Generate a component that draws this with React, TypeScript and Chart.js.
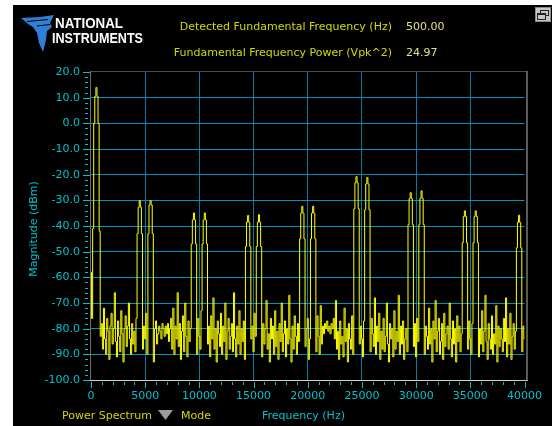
import React, { useEffect, useRef } from "react";
import { Chart, registerables } from "chart.js";

Chart.register(...registerables);

// Spectrum bins are spaced 100 Hz apart, from 0 Hz to 40 kHz.
const BIN_HZ = 100;

// Power spectrum magnitude in dBm, one value per bin.
const magnitudeDbm: number[] = [
  -58, -76, -41, 0, 10.5, 13.97, 10.5, 0, -42, -83,
  -78, -88, -72, -84, -90, -76, -81, -92, -79, -74,
  -86, -80, -66, -85, -91, -77, -83, -89, -73, -82,
  -93, -80, -75, -87, -79, -70, -84, -90, -78, -86,
  -81, -89, -76, -43, -32.7, -30.1, -32.7, -43, -88, -79,
  -84, -74, -90, -43, -31.8, -30.1, -31.8, -43, -93, -80,
  -77, -86, -82, -79, -81, -84, -78, -80, -83, -79,
  -82, -78, -85, -80, -76, -88, -72, -90, -79, -84,
  -66, -87, -78, -92, -81, -75, -89, -70, -83, -91,
  -77, -85, -80, -47, -37.6, -34.9, -37.6, -47, -90, -76,
  -83, -88, -73, -47, -37.6, -34.9, -37.6, -47, -86, -79,
  -91, -75, -84, -68, -88, -80, -93, -77, -82, -87,
  -74, -90, -79, -85, -70, -92, -81, -76, -88, -83,
  -78, -89, -66, -84, -91, -79, -86, -73, -90, -80,
  -85, -77, -92, -48, -38.5, -35.9, -38.5, -48, -84, -79,
  -89, -74, -83, -48, -38.5, -35.6, -38.5, -48, -91, -78,
  -86, -80, -69, -88, -82, -93, -76, -84, -79, -90,
  -73, -87, -81, -92, -78, -85, -70, -89, -82, -77,
  -91, -80, -86, -67, -84, -93, -79, -88, -75, -83,
  -90, -78, -85, -45, -35.0, -32.3, -35.0, -45, -87, -80,
  -76, -92, -84, -45, -35.0, -32.3, -35.0, -45, -89, -75,
  -83, -90, -71, -86, -79, -82, -78, -80, -77, -81,
  -79, -82, -78, -80, -76, -84, -69, -88, -81, -92,
  -77, -86, -83, -91, -72, -85, -80, -93, -78, -84,
  -88, -75, -90, -33.3, -23.2, -20.7, -23.2, -33.3, -86, -79,
  -84, -91, -77, -33.7, -23.6, -21.1, -23.6, -33.7, -89, -76,
  -82, -87, -68, -90, -79, -85, -74, -92, -81, -88,
  -76, -89, -83, -70, -86, -93, -78, -84, -80, -91,
  -73, -88, -81, -85, -67, -90, -79, -86, -77, -92,
  -84, -80, -89, -39.5, -29.3, -27.0, -29.3, -39.5, -87, -78,
  -91, -76, -85, -39.5, -29.2, -26.3, -29.2, -39.5, -90, -79,
  -83, -88, -72, -86, -80, -93, -77, -84, -69, -89,
  -81, -76, -90, -85, -78, -92, -74, -87, -82, -79,
  -88, -70, -84, -91, -77, -86, -80, -93, -75, -85,
  -79, -89, -82, -46.5, -36.3, -34.1, -36.3, -46.5, -88, -77,
  -84, -90, -78, -46.5, -36.3, -34.1, -36.3, -46.5, -91, -80,
  -86, -73, -89, -81, -67, -85, -92, -78, -84, -88,
  -75, -90, -82, -86, -71, -93, -79, -87, -80, -84,
  -89, -76, -85, -68, -91, -80, -86, -74, -92, -83,
  -78, -88, -81, -48.5, -38.6, -35.8, -38.6, -48.5, -89, -79,
  -84,
];

const frequencyHz: number[] = magnitudeDbm.map((_, i) => i * BIN_HZ);

// Axis ranges and tick spacing
const X_MIN = 0;
const X_MAX = 40000;
const X_MAJOR = 5000;
const X_MINOR = 1000;
const Y_MIN = -100;
const Y_MAX = 20;
const Y_MAJOR = 10;
const Y_MINOR = 2;

// Readouts shown above the graph
const readoutLabels = [
  "Detected Fundamental Frequency (Hz)",
  "Fundamental Frequency Power (Vpk^2)",
];
const readoutValues = ["500.00", "24.97"];

const FONT = "'DejaVu Sans', sans-serif";
const LOGO_FONT = "'Liberation Sans', sans-serif";
const CYAN = "#00c2cc";
const YELLOW = "#d6d600";
const PALE_YELLOW = "#e2e28a";
const H_GRID = "#0a90bc";
const V_GRID = "#0a7ca2";

const framePlugin = {
  id: "frameAndTicks",
  afterDraw(chart: any) {
    const { ctx, chartArea: a, scales } = chart;
    const x = scales.x;
    const y = scales.y;
    ctx.save();
    ctx.lineWidth = 1;

    // sunken frame round the plot area
    ctx.strokeStyle = "#4c4c4c";
    ctx.beginPath();
    ctx.moveTo(a.left - 1, a.top - 0.5);
    ctx.lineTo(a.right + 2, a.top - 0.5);
    ctx.stroke();
    ctx.strokeStyle = "#6e6e6e";
    ctx.beginPath();
    ctx.moveTo(a.left - 0.5, a.top - 1);
    ctx.lineTo(a.left - 0.5, a.bottom);
    ctx.stroke();
    ctx.strokeStyle = "#b4b4b4";
    ctx.beginPath();
    ctx.moveTo(a.right + 2.5, a.top - 1);
    ctx.lineTo(a.right + 2.5, a.bottom + 1);
    ctx.stroke();
    ctx.strokeStyle = "#d0d0d0";
    ctx.beginPath();
    ctx.moveTo(a.left - 1, a.bottom + 0.5);
    ctx.lineTo(a.right + 3, a.bottom + 0.5);
    ctx.stroke();

    // tick marks
    ctx.strokeStyle = CYAN;
    for (let v = Y_MIN; v <= Y_MAX; v += Y_MINOR) {
      const py = Math.round(y.getPixelForValue(v)) + 0.5;
      const major = v % Y_MAJOR === 0;
      ctx.beginPath();
      ctx.moveTo(a.left - (major ? 8 : 6), py);
      ctx.lineTo(a.left - (major ? 1 : 3), py);
      ctx.stroke();
    }
    for (let f = X_MIN; f <= X_MAX; f += X_MINOR) {
      const px = Math.round(x.getPixelForValue(f)) + 0.5;
      const major = f % X_MAJOR === 0;
      ctx.beginPath();
      ctx.moveTo(px, a.bottom + 2);
      ctx.lineTo(px, a.bottom + (major ? 8 : 5));
      ctx.stroke();
    }
    ctx.restore();
  },
};

export default function App() {
  const canvasRef = useRef<HTMLCanvasElement>(null);

  useEffect(() => {
    const canvas = canvasRef.current;
    if (!canvas) return;
    const points = frequencyHz.map((f, i) => ({ x: f, y: magnitudeDbm[i] }));
    const chart = new Chart(canvas, {
      type: "line",
      data: {
        datasets: [
          {
            data: points,
            borderColor: "#ffff00",
            borderWidth: 1,
            pointRadius: 0,
            stepped: "middle",
            fill: false,
          },
        ],
      },
      options: {
        responsive: false,
        animation: false,
        events: [],
        layout: { padding: { left: 0, top: 72, right: 26, bottom: 0 } },
        plugins: { legend: { display: false }, tooltip: { enabled: false } },
        scales: {
          x: {
            type: "linear",
            min: X_MIN,
            max: X_MAX,
            afterFit: (s: any) => {
              s.height = 46;
            },
            ticks: {
              stepSize: X_MAJOR,
              autoSkip: false,
              maxRotation: 0,
              color: CYAN,
              padding: 10,
              font: { family: FONT, size: 11 },
              callback: (v: any) => String(v),
            },
            grid: {
              drawTicks: false,
              lineWidth: 1,
              color: (c: any) =>
                c.tick && (c.tick.value === X_MIN || c.tick.value === X_MAX)
                  ? "rgba(0,0,0,0)"
                  : V_GRID,
            },
            border: { display: false },
          },
          y: {
            type: "linear",
            min: Y_MIN,
            max: Y_MAX,
            afterFit: (s: any) => {
              s.width = 91;
            },
            ticks: {
              stepSize: Y_MAJOR,
              autoSkip: false,
              color: CYAN,
              padding: 11,
              font: { family: FONT, size: 11 },
              callback: (v: any) => Number(v).toFixed(1),
            },
            grid: {
              drawTicks: false,
              lineWidth: 1,
              color: (c: any) =>
                c.tick && (c.tick.value === Y_MIN || c.tick.value === Y_MAX)
                  ? "rgba(0,0,0,0)"
                  : H_GRID,
            },
            border: { display: false },
          },
        },
      },
      plugins: [framePlugin],
    });
    return () => chart.destroy();
  }, []);

  return (
    <div
      style={{
        position: "fixed",
        left: 0,
        top: 0,
        width: 552,
        height: 426,
        background: "#ffffff",
        overflow: "hidden",
      }}
    >
      <div
        style={{
          position: "absolute",
          left: 13,
          top: 5,
          right: 0,
          bottom: 0,
          background: "#000000",
        }}
      />
      <canvas
        ref={canvasRef}
        width={552}
        height={426}
        style={{ position: "absolute", left: 0, top: 0, display: "block" }}
      />
      <svg
        width={552}
        height={426}
        style={{ position: "absolute", left: 0, top: 0, pointerEvents: "none" }}
      >
        {/* NI logo */}
        <path
          d="M21,18 L40,17 L54,15 L50,23 L52,27 L47,31 L46,40 L43,52 L39,43 L37,33 L33,27 L28,24 Z"
          fill="#2f7fd6"
        />
        <path d="M27,21.5 L48,19.5" stroke="#000" strokeWidth={1} />
        <path d="M37,26 L50,24.5" stroke="#000" strokeWidth={1} />
        <text
          x={55}
          y={28}
          fill="#ffffff"
          fontFamily={LOGO_FONT}
          fontWeight="bold"
          fontSize={15}
          textLength={68}
          lengthAdjust="spacingAndGlyphs"
        >
          NATIONAL
        </text>
        <text
          x={52}
          y={43}
          fill="#ffffff"
          fontFamily={LOGO_FONT}
          fontWeight="bold"
          fontSize={15}
          textLength={91}
          lengthAdjust="spacingAndGlyphs"
        >
          INSTRUMENTS
        </text>

        {/* readouts */}
        <text x={392} y={30} fill={YELLOW} fontFamily={FONT} fontSize={11} textAnchor="end">
          {readoutLabels[0]}
        </text>
        <text x={406} y={30} fill={PALE_YELLOW} fontFamily={FONT} fontSize={11}>
          {readoutValues[0]}
        </text>
        <text x={392} y={56} fill={YELLOW} fontFamily={FONT} fontSize={11} textAnchor="end">
          {readoutLabels[1]}
        </text>
        <text x={406} y={56} fill={PALE_YELLOW} fontFamily={FONT} fontSize={11}>
          {readoutValues[1]}
        </text>

        {/* window button */}
        <rect x={535.5} y={7.5} width={15} height={14} fill="#c6c6c6" stroke="#8a8a8a" />
        <rect x={540.5} y={10.5} width={8} height={5} fill="none" stroke="#222" />
        <rect x={537.5} y={13.5} width={8} height={6} fill="#c6c6c6" stroke="#222" />
        <line x1={537.5} y1={14.5} x2={545.5} y2={14.5} stroke="#222" />

        {/* axis titles */}
        <text
          x={0}
          y={0}
          fill={CYAN}
          fontFamily={FONT}
          fontSize={11}
          textAnchor="middle"
          transform="translate(37,229) rotate(-90)"
        >
          Magnitude (dBm)
        </text>
        <text x={262} y={419} fill={CYAN} fontFamily={FONT} fontSize={11}>
          Frequency (Hz)
        </text>
        <text x={62} y={419} fill={YELLOW} fontFamily={FONT} fontSize={11}>
          Power Spectrum
        </text>
        <polygon points="158,410 173,410 165.5,420" fill="#9c9c9c" />
        <text x={181} y={419} fill={YELLOW} fontFamily={FONT} fontSize={11}>
          Mode
        </text>
      </svg>
    </div>
  );
}
